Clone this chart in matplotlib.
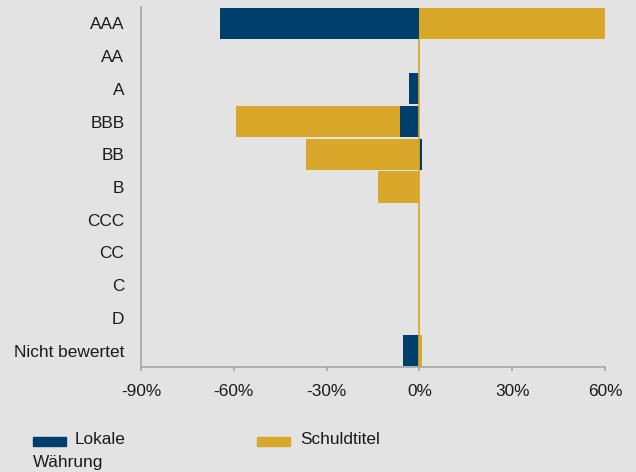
import numpy as np
import matplotlib
matplotlib.use('Agg')
import matplotlib.pyplot as plt
from matplotlib.patches import Rectangle

plt.rcParams['font.family'] = ['Liberation Sans', 'DejaVu Sans']

categories = ['AAA', 'AA', 'A', 'BBB', 'BB', 'B', 'CCC', 'CC', 'C', 'D', 'Nicht bewertet']
lokale_waehrung = [-64.5, 0, -3.5, -6.4, 0.7, 0, 0, 0, 0, 0, -5.4]
schuldtitel = [60, 0, 0, -59.3, -36.5, -13.3, 0, 0, 0, 0, 0.7]
xticks = [-90, -60, -30, 0, 30, 60]

blue = '#003f6b'
gold = '#d9a82b'
bg = '#e3e3e3'
grey = '#a6a6a6'

fig = plt.figure(figsize=(6.36, 4.72), dpi=100, facecolor=bg)
ax = fig.add_axes([141 / 636, 1 - 367 / 472, (605 - 141) / 636, (367 - 7) / 472])
ax.set_facecolor(bg)

y = np.arange(len(categories))
ax.barh(y, schuldtitel, height=0.95, color=gold, zorder=2)
ax.barh(y, lokale_waehrung, height=0.95, color=blue, zorder=3)
ax.axvline(0, ymin=0, ymax=1 - 1 / len(categories), color=gold, lw=1.2, zorder=4)

ax.set_xlim(-90, 60)
ax.set_ylim(len(categories) - 0.5, -0.5)
ax.set_yticks(y)
ax.set_yticklabels(categories)
ax.set_xticks(xticks)
ax.set_xticklabels([f'{v}%' for v in xticks])

for s in ['top', 'right']:
    ax.spines[s].set_visible(False)
for s in ['left', 'bottom']:
    ax.spines[s].set_color(grey)
    ax.spines[s].set_linewidth(1.2)

ax.tick_params(axis='y', length=0, pad=12, labelsize=12.4, colors='#1a1a1a')
ax.tick_params(axis='x', length=3, width=1.2, color=grey, pad=9, labelsize=12.4, labelcolor='#1a1a1a')

# legend
fig.patches.append(Rectangle((33 / 636, 1 - 446 / 472), 33 / 636, 9 / 472,
                             transform=fig.transFigure, color=blue, figure=fig))
fig.text(75 / 636, 1 - 439 / 472, 'Lokale', fontsize=12.4, va='center', color='#1a1a1a')
fig.text(33 / 636, 1 - 463 / 472, 'Währung', fontsize=12.4, va='center', color='#1a1a1a')
fig.patches.append(Rectangle((257 / 636, 1 - 446 / 472), 33 / 636, 9 / 472,
                             transform=fig.transFigure, color=gold, figure=fig))
fig.text(300 / 636, 1 - 439 / 472, 'Schuldtitel', fontsize=12.4, va='center', color='#1a1a1a')

fig.savefig('out.png', dpi=100, facecolor=bg)
